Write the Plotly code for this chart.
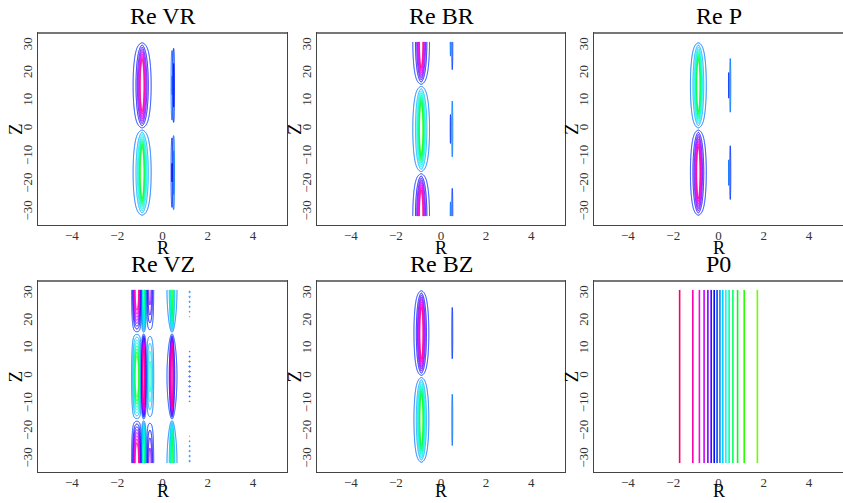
import colorsys
import numpy as np
import plotly.graph_objects as go

W, H = 843, 503

# ---------------------------------------------------------------- data
TITLES = ["Re VR", "Re BR", "Re P", "Re VZ", "Re BZ", "P0"]
R_TICKS = [-4, -2, 0, 2, 4]
Z_TICKS = [-30, -20, -10, 0, 10, 20, 30]
R_RANGE = [-5.5, 5.5]
Z_RANGE = [-34.56, 34.56]
Z_HALF = 10 * np.pi          # axial half length of the box

# contour levels shared by every panel
LEVEL_START, LEVEL_STEP, LEVEL_COUNT = -0.9375, 0.125, 16

# radial terms of each perturbed quantity: centre, width, amplitude, shape
VR_CENTER = [-0.90, 0.42, 0.49]
VR_WIDTH = [0.116, 0.026, 0.022]
VR_AMP = [1.60, -0.20, 0.27]
VR_SHAPE = ["cusp", "gauss", "gauss"]

BR_CENTER = [-0.88, 0.42, 0.50]
BR_WIDTH = [0.108, 0.020, 0.020]
BR_AMP = [-1.60, 0.072, -0.116]
BR_SHAPE = ["cusp", "gauss", "gauss"]

P_CENTER = [-0.89, 0.45, 0.52]
P_WIDTH = [0.102, 0.020, 0.020]
P_AMP = [-1.60, 0.070, -0.110]
P_SHAPE = ["cusp", "gauss", "gauss"]

VZ_CENTER = [-1.13, -0.83, -0.56, 0.42]
VZ_WIDTH = [0.098, 0.035, 0.087, 0.039]
VZ_AMP = [-1.30, 2.00, -0.55, 2.00]
VZ_SHAPE = ["gauss", "lorentz", "gauss", "lorentz"]
VZ_RIPPLE = dict(center=1.20, width=0.025, amp=0.12, pitch=1.8)

BZ_CENTER = [-0.87, 0.50]
BZ_WIDTH = [0.096, 0.020]
BZ_AMP = [1.60, 0.104]
BZ_SHAPE = ["cusp", "gauss"]

# axial dependence of each quantity
Z_PROFILE = {"Re VR": "sin", "Re BR": "cos", "Re P": "sin", "Re VZ": "cos", "Re BZ": "sin"}

# hue (degrees) of the lowest and highest contour level in each panel
HUE_RANGE = {
    "Re VR": (112, 330), "Re BR": (108, 330), "Re P": (112, 330),
    "Re VZ": (105, 330), "Re BZ": (112, 330), "P0": (95, 335),
}

# ---------------------------------------------------------------- grids
r = np.arange(-2.0, 2.0001, 0.005)
zc = np.linspace(-Z_HALF, Z_HALF, 315)
RR, ZZ = np.meshgrid(r, zc)


def radial(shape, c, w):
    u = (RR - c) / w
    if shape == "lorentz":
        return 1.0 / (1.0 + u * u)
    if shape == "cusp":
        # exponential peak, rounded off right at the centre
        return np.exp(-(np.sqrt(u * u + 0.04) - 0.2))
    return np.exp(-0.5 * u * u)


def build(name, centers, widths, amps, shapes):
    prof = np.sin(ZZ / 10) if Z_PROFILE[name] == "sin" else np.cos(ZZ / 10)
    g = np.zeros_like(RR)
    for c, w, a, s in zip(centers, widths, amps, shapes):
        g += a * radial(s, c, w)
    return prof * g


fields = {
    "Re VR": build("Re VR", VR_CENTER, VR_WIDTH, VR_AMP, VR_SHAPE),
    "Re BR": build("Re BR", BR_CENTER, BR_WIDTH, BR_AMP, BR_SHAPE),
    "Re P": build("Re P", P_CENTER, P_WIDTH, P_AMP, P_SHAPE),
    "Re VZ": build("Re VZ", VZ_CENTER, VZ_WIDTH, VZ_AMP, VZ_SHAPE),
    "Re BZ": build("Re BZ", BZ_CENTER, BZ_WIDTH, BZ_AMP, BZ_SHAPE),
}
# fine axial ripple near the outer wall in Re VZ
rip = VZ_RIPPLE
fields["Re VZ"] = fields["Re VZ"] + (
    rip["amp"] * np.cos(ZZ / 10)
    * np.exp(-0.5 * ((RR - rip["center"]) / rip["width"]) ** 2)
    * ((1 + np.cos(2 * np.pi * ZZ / rip["pitch"])) / 2) ** 4
)

# equilibrium pressure depends on R only
z_p0 = np.array([-Z_HALF, Z_HALF])
p0 = np.tile(-np.tanh(r), (2, 1))


def hue_scale(h_lo, h_hi, n=32):
    out = []
    for i in range(n):
        t = i / (n - 1)
        rr, gg, bb = colorsys.hsv_to_rgb(((h_lo + (h_hi - h_lo) * t) % 360) / 360, 1.0, 1.0)
        out.append([t, f"rgb({int(rr*255)},{int(gg*255)},{int(bb*255)})"])
    return out


# ---------------------------------------------------------------- layout
COLS = [(38, 287), (317, 565), (594, 843)]
ROWS = [(33, 225), (281, 472)]
SERIF = "Liberation Serif"

fig = go.Figure()
layout = dict(
    width=W, height=H, margin=dict(l=0, r=0, t=0, b=0),
    paper_bgcolor="white", plot_bgcolor="white", showlegend=False,
)
annotations, shapes = [], []

for k, name in enumerate(TITLES):
    row, col = divmod(k, 3)
    x0, x1 = COLS[col]
    y0, y1 = ROWS[row]
    ax = "" if k == 0 else str(k + 1)
    xa, ya = "x" + ax, "y" + ax

    contours = dict(start=LEVEL_START, end=LEVEL_START + LEVEL_STEP * (LEVEL_COUNT - 1),
                    size=LEVEL_STEP, coloring="lines")
    if name == "P0":
        tr = go.Contour(x=r, y=z_p0, z=p0.astype(np.float32), line=dict(width=1.6))
    else:
        tr = go.Contour(x=r, y=zc, z=fields[name].astype(np.float32), line=dict(width=1))
    tr.update(contours=contours, autocontour=False, colorscale=hue_scale(*HUE_RANGE[name]),
              showscale=False, hoverinfo="skip", xaxis=xa, yaxis=ya)
    fig.add_trace(tr)

    common = dict(showgrid=False, zeroline=False, showline=True, mirror=True,
                  linecolor="#444", linewidth=1, ticks="",
                  tickfont=dict(family=SERIF, size=13, color="#333"))
    layout["xaxis" + ax] = dict(domain=[x0 / W, x1 / W], range=R_RANGE, tickvals=R_TICKS,
                                anchor=ya, ticklabelstandoff=-2, **common)
    layout["yaxis" + ax] = dict(domain=[1 - y1 / H, 1 - y0 / H], range=Z_RANGE, tickvals=Z_TICKS,
                                tickangle=-90, anchor=xa, **common)

    # heavier top rule of each frame
    shapes.append(dict(type="line", xref="paper", yref="paper", x0=x0 / W, x1=x1 / W,
                       y0=1 - y0 / H, y1=1 - y0 / H, line=dict(color="#777", width=2)))

    xc = (x0 + x1) / 2
    annotations.append(dict(text=name, x=xc / W, y=1 - (y0 - 17) / H, xref="paper", yref="paper",
                            showarrow=False, xanchor="center", yanchor="middle",
                            font=dict(family=SERIF, size=24, color="black")))
    if row == 0:
        r_lab = dict(y=1 - (y1 + 23) / H, yanchor="middle")
    else:
        r_lab = dict(y=0, yanchor="bottom")
    annotations.append(dict(text="R", x=xc / W, xref="paper", yref="paper",
                            showarrow=False, xanchor="center", **r_lab,
                            font=dict(family=SERIF, size=18, color="black")))
    annotations.append(dict(text="Z", x=(x0 - 23) / W, y=1 - ((y0 + y1) / 2) / H,
                            xref="paper", yref="paper", textangle=-90,
                            showarrow=False, xanchor="center", yanchor="middle",
                            font=dict(family=SERIF, size=19, color="black")))

layout["annotations"] = annotations
layout["shapes"] = shapes
fig.update_layout(**layout)
fig.write_html("out.html")
